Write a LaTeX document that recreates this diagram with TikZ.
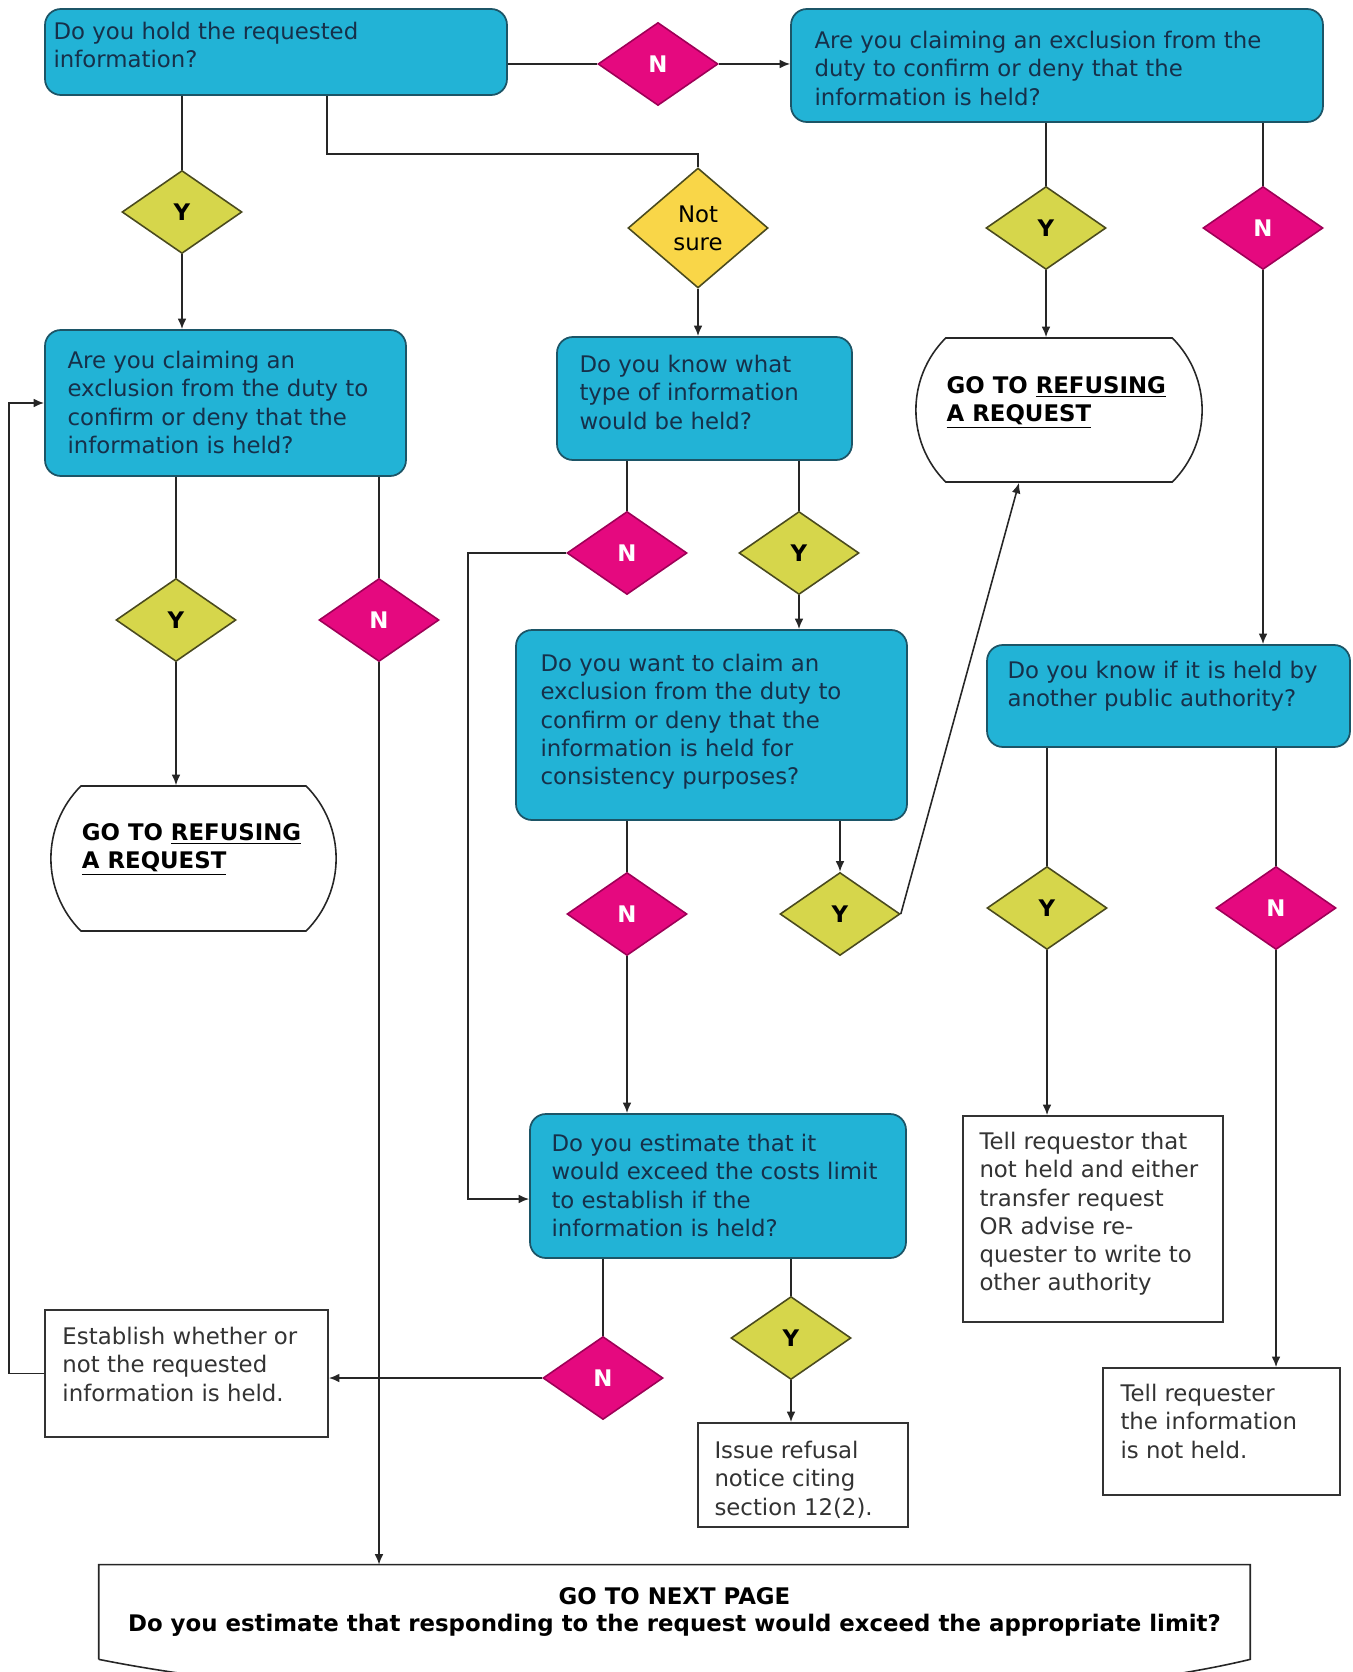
\documentclass[tikz,border=0pt]{standalone}
\usepackage{fontspec}
\setmainfont{DejaVu Sans}
\usetikzlibrary{shapes.geometric,shapes.misc,arrows.meta}

\definecolor{qblue}{HTML}{22B3D6}
\definecolor{qedge}{HTML}{1C5567}
\definecolor{qtext}{HTML}{16304A}
\definecolor{nfill}{HTML}{E5097F}
\definecolor{nedge}{HTML}{9E0057}
\definecolor{yfill}{HTML}{D6D64B}
\definecolor{yedge}{HTML}{4A4A1E}
\definecolor{sfill}{HTML}{F9D648}
\newcommand\qfont{\fontsize{13}{16}\selectfont}

\tikzset{
qbox/.style={draw=qedge,fill=qblue,rounded corners=9pt,line width=1pt},
wbox/.style={draw=black!80,fill=white,line width=1pt},
goto/.style={rounded rectangle,rounded rectangle arc length=90,draw=black!85,fill=white,line width=0.9pt},
ydia/.style={diamond,draw=yedge,fill=yfill,line width=0.9pt,minimum width=2.4cm,minimum height=1.66cm,inner sep=0pt,font=\bfseries\qfont},
ndia/.style={ydia,draw=nedge,fill=nfill,text=white},
lbl/.style={anchor=north west,align=left,inner sep=0pt,font=\qfont,text=qtext},
wlbl/.style={lbl,text=black!80},
link/.style={draw=black!85,line width=0.9pt},
arr/.style={link,-{Latex[length=6pt,width=5pt]}}
}

\begin{document}
\begin{tikzpicture}[x=0.02cm,y=-0.02cm]
\useasboundingbox (0,0) rectangle (1352,1672);

% questions
\node[qbox,minimum width=9.24cm,minimum height=1.72cm,label={[lbl,xshift=0.18cm,yshift=-0.28cm]north west:{Do you hold the requested\\information?}}] (q1) at (276,52) {};
\node[qbox,minimum width=10.64cm,minimum height=2.26cm,label={[lbl,xshift=0.48cm,yshift=-0.46cm]north west:{Are you claiming an exclusion from the\\duty to confirm or deny that the\\information is held?}}] (q2) at (1057,65.5) {};
\node[qbox,minimum width=7.22cm,minimum height=2.92cm,label={[lbl,xshift=0.46cm,yshift=-0.44cm]north west:{Are you claiming an\\exclusion from the duty to\\confirm or deny that the\\information is held?}}] (q3) at (225.5,403) {};
\node[qbox,minimum width=5.9cm,minimum height=2.46cm,label={[lbl,xshift=0.46cm,yshift=-0.38cm]north west:{Do you know what\\type of information\\would be held?}}] (q4) at (704.5,398.5) {};
\node[qbox,minimum width=7.82cm,minimum height=3.8cm,label={[lbl,xshift=0.5cm,yshift=-0.5cm]north west:{Do you want to claim an\\exclusion from the duty to\\confirm or deny that the\\information is held for\\consistency purposes?}}] (q5) at (711.5,725) {};
\node[qbox,minimum width=7.26cm,minimum height=2.04cm,label={[lbl,xshift=0.42cm,yshift=-0.34cm]north west:{Do you know if it is held by\\another public authority?}}] (q6) at (1168.5,696) {};
\node[qbox,minimum width=7.52cm,minimum height=2.88cm,label={[lbl,xshift=0.44cm,yshift=-0.42cm]north west:{Do you estimate that it\\would exceed the costs limit\\to establish if the\\information is held?}}] (q9) at (718,1186) {};

% answers
\node[ndia] (n1) at (658,64) {N};
\node[ydia] (y1) at (182,212) {Y};
\node[ydia,fill=sfill,minimum width=2.8cm,minimum height=2.4cm,font=\qfont,align=center] (ns) at (698,228) {Not\\sure};
\node[ydia] (y2) at (1046,228) {Y};
\node[ndia] (n2) at (1263,228) {N};
\node[ydia] (y3) at (176,620) {Y};
\node[ndia] (n3) at (379,620) {N};
\node[ndia] (n4) at (627,553) {N};
\node[ydia] (y4) at (799,553) {Y};
\node[ndia] (n5) at (627,914) {N};
\node[ydia] (y5) at (840,914) {Y};
\node[ydia] (y6) at (1047,908) {Y};
\node[ndia] (n6) at (1276,908) {N};
\node[ndia] (n9) at (603,1378) {N};
\node[ydia] (y9) at (791,1338) {Y};

% outcomes
\node[goto,minimum width=5.94cm,minimum height=2.9cm,label={[wlbl,text=black,xshift=0.02cm,yshift=-0.76cm]north west:{\textbf{GO TO \underline{REFUSING}}\\\textbf{\underline{A REQUEST}}}}] (r1) at (193.5,858.5) {};
\node[goto,minimum width=5.96cm,minimum height=2.88cm,label={[wlbl,text=black,xshift=0.02cm,yshift=-0.78cm]north west:{\textbf{GO TO \underline{REFUSING}}\\\textbf{\underline{A REQUEST}}}}] (r2) at (1059,410) {};
\node[wbox,minimum width=5.2cm,minimum height=4.12cm,label={[wlbl,xshift=0.34cm,yshift=-0.34cm]north west:{Tell requestor that\\not held and either\\transfer request\\OR advise re-\\quester to write to\\other authority}}] (p7) at (1093,1219) {};
\node[wbox,minimum width=4.74cm,minimum height=2.54cm,label={[wlbl,xshift=0.36cm,yshift=-0.34cm]north west:{Tell requester\\the information\\is not held.}}] (p8) at (1221.5,1431.5) {};
\node[wbox,minimum width=5.66cm,minimum height=2.54cm,label={[wlbl,xshift=0.36cm,yshift=-0.36cm]north west:{Establish whether or\\not the requested\\information is held.}}] (p10) at (186.5,1373.5) {};
\node[wbox,minimum width=4.2cm,minimum height=2.08cm,label={[wlbl,xshift=0.34cm,yshift=-0.38cm]north west:{Issue refusal\\notice citing\\section 12(2).}}] (p11) at (803,1475) {};
\node[minimum width=23.02cm,minimum height=1.88cm,align=center,font=\bfseries\fontsize{13}{15.4}\selectfont] (next) at (674.5,1612) {GO TO NEXT PAGE\\Do you estimate that responding to the request would exceed the appropriate limit?};
\draw[link] (next.south west) -- (next.north west) -- (next.north east) -- (next.south east) .. controls (1000,1720) and (400,1720) .. (next.south west);

% connectors
\draw[link] (n1.west -| q1.east) -- (n1.west);
\draw[arr] (n1.east) -- (n1.east -| q2.west);
\draw[link] (y1.north |- q1.south) -- (y1.north);
\draw[arr] (y1.south) -- (y1.south |- q3.north);
\draw[link] ([xshift=1.02cm]q1.south) -- ++(0,58) -| (ns.north);
\draw[arr] (ns.south) -- (ns.south |- q4.north);
\draw[link] (y2.north |- q2.south) -- (y2.north);
\draw[arr] (y2.south) -- (y2.south |- r2.north);
\draw[link] (n2.north |- q2.south) -- (n2.north);
\draw[arr] (n2.south) -- (n2.south |- q6.north);
\draw[link] (y3.north |- q3.south) -- (y3.north);
\draw[arr] (y3.south) -- (y3.south |- r1.north);
\draw[link] (n3.north |- q3.south) -- (n3.north);
\draw[arr] (n3.south) -- (n3.south |- next.north);
\draw[link] (n4.north |- q4.south) -- (n4.north);
\draw[link] (y4.north |- q4.south) -- (y4.north);
\draw[arr] (y4.south) -- (y4.south |- q5.north);
\coordinate (c1) at (468,1199);
\draw[arr] (n4.west) -| (c1) -- (c1 -| q9.west);
\draw[link] (n5.north |- q5.south) -- (n5.north);
\draw[arr] (n5.south) -- (n5.south |- q9.north);
\draw[arr] (y5.north |- q5.south) -- (y5.north);
\draw[arr] (y5.east) -- ([xshift=-0.8cm]r2.south);
\draw[link] (y6.north |- q6.south) -- (y6.north);
\draw[arr] (y6.south) -- (y6.south |- p7.north);
\draw[link] (n6.north |- q6.south) -- (n6.north);
\draw[arr] (n6.south) -- (n6.south |- p8.north);
\draw[link] (n9.north |- q9.south) -- (n9.north);
\draw[link] (y9.north |- q9.south) -- (y9.north);
\draw[arr] (n9.west) -- (n9.west -| p10.east);
\draw[arr] (y9.south) -- (y9.south |- p11.north);
\draw[arr] (p10.west) -- ++(-35,0) |- (q3.west);
\end{tikzpicture}
\end{document}
